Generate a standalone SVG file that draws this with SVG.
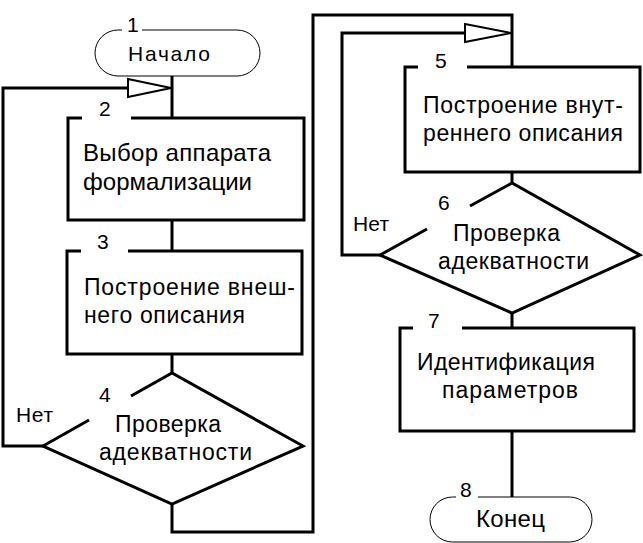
<svg xmlns="http://www.w3.org/2000/svg" width="643" height="543" viewBox="0 0 643 543">
<style>
  .frame{fill:none;stroke:#000;stroke-width:3;stroke-linejoin:miter}
  .term{fill:none;stroke:#000;stroke-width:1}
  .conn{fill:none;stroke:#000;stroke-width:3}
  .arrow{fill:#fff;stroke:#000;stroke-width:2}
  text{font-family:"Liberation Sans",Arial,sans-serif;font-size:23px;fill:#000}
  .num{font-size:21px}
</style>
<rect width="643" height="543" fill="#fff"/>
<g id="connectors">
  <path class="conn" d="M172,76 V118"/>
  <path class="conn" d="M43,446 H3 V88 H130"/>
  <polygon class="arrow" points="128,79 171,88 128,97"/>
  <path class="conn" d="M172,220 V251"/>
  <path class="conn" d="M172,354 V373"/>
  <path class="conn" d="M172,504 V532 H313 V15 H512 V67"/>
  <path class="conn" d="M380,255 H342 V33 H467"/>
  <polygon class="arrow" points="465,24 511,33 465,42"/>
  <path class="conn" d="M512,172 V183"/>
  <path class="conn" d="M512,313 V328"/>
  <path class="conn" d="M512,431 V497"/>
  <text x="16" y="422" textLength="37" lengthAdjust="spacing" style="font-size:21px">Нет</text>
  <text x="353" y="231" textLength="36" lengthAdjust="spacing" style="font-size:21px">Нет</text>
</g>
<g id="node1">
  <path class="term" d="M142,30 H237 A23,23 0 0 1 237,76 H118 A23,23 0 0 1 118,30 H122"/>
  <text class="num" x="127" y="32">1</text>
  <text x="128" y="61" textLength="82" lengthAdjust="spacing" style="font-size:21px">Начало</text>
</g>
<g id="node2">
  <path class="frame" d="M131,118 H304 V220 H68 V118 H82"/>
  <text class="num" x="99" y="116">2</text>
  <text x="83" y="161" textLength="188" lengthAdjust="spacing" style="font-size:24px">Выбор аппарата</text>
  <text x="83" y="190" textLength="169" lengthAdjust="spacing" style="font-size:24px">формализации</text>
</g>
<g id="node3">
  <path class="frame" d="M128,251 H302 V354 H67 V251 H81"/>
  <text class="num" x="97" y="249">3</text>
  <text x="84" y="295" textLength="211" lengthAdjust="spacing">Построение внеш-</text>
  <text x="84" y="323" textLength="161" lengthAdjust="spacing">него описания</text>
</g>
<g id="node4">
  <path class="frame" d="M131,396 L172,373 L303,446 L172,504 L43,446 L89,420"/>
  <text class="num" x="99" y="402">4</text>
  <text x="115" y="432" textLength="106" lengthAdjust="spacing">Проверка</text>
  <text x="99" y="460" textLength="153" lengthAdjust="spacing">адекватности</text>
</g>
<g id="node5">
  <path class="frame" d="M467,67 H640 V172 H405 V67 H418"/>
  <text class="num" x="435" y="68">5</text>
  <text x="423" y="113" textLength="200" lengthAdjust="spacing">Построение внут-</text>
  <text x="423" y="141" textLength="200" lengthAdjust="spacing">реннего описания</text>
</g>
<g id="node6">
  <path class="frame" d="M470,206 L512,183 L640,255 L512,313 L380,255 L427,229"/>
  <text class="num" x="438" y="210">6</text>
  <text x="453" y="241" textLength="107" lengthAdjust="spacing">Проверка</text>
  <text x="438" y="269" textLength="151" lengthAdjust="spacing">адекватности</text>
</g>
<g id="node7">
  <path class="frame" d="M462,328 H634 V431 H400 V328 H413"/>
  <text class="num" x="428" y="328">7</text>
  <text x="417" y="370" textLength="178" lengthAdjust="spacing">Идентификация</text>
  <text x="442" y="398" textLength="136" lengthAdjust="spacing">параметров</text>
</g>
<g id="node8">
  <path class="term" d="M478,497 H569.5 A22.5,22.5 0 0 1 569.5,542 H452.5 A22.5,22.5 0 0 1 452.5,497 H456"/>
  <text class="num" x="460" y="497">8</text>
  <text x="476" y="527" textLength="69" lengthAdjust="spacing" style="font-size:24px">Конец</text>
</g>
</svg>
